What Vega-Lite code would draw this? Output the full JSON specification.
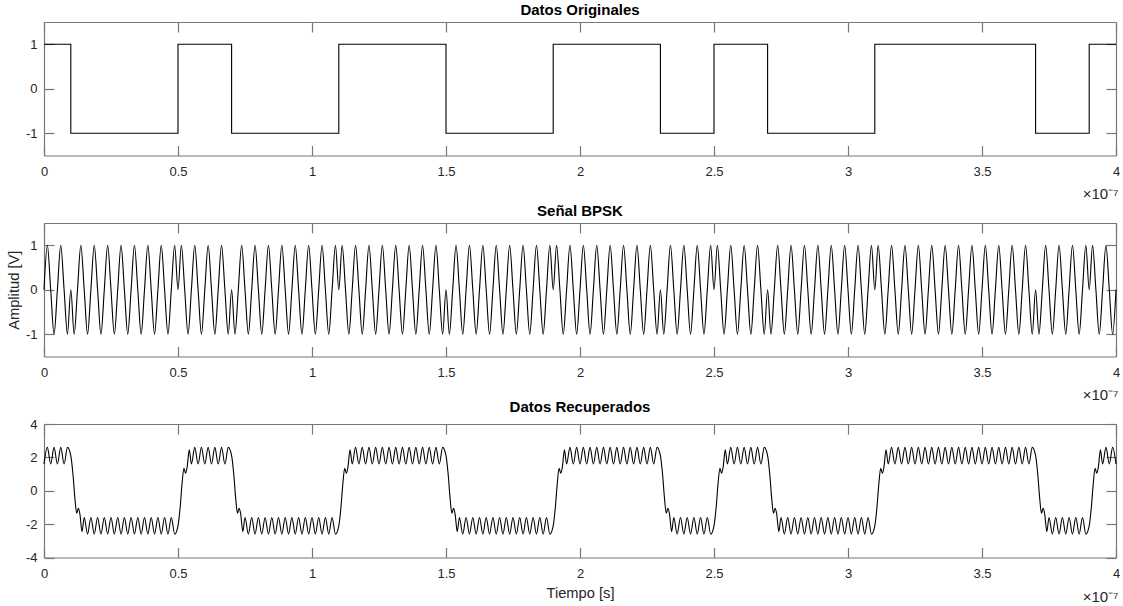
{
  "$schema": "https://vega.github.io/schema/vega-lite/v6.json",
  "background": "white",
  "padding": {"left": 5, "top": 3, "right": 0, "bottom": 0},
  "datasets": {
    "bits": [
      {"t":0,"v":1},{"t":10,"v":-1},{"t":20,"v":-1},{"t":30,"v":-1},{"t":40,"v":-1},
      {"t":50,"v":1},{"t":60,"v":1},{"t":70,"v":-1},{"t":80,"v":-1},{"t":90,"v":-1},
      {"t":100,"v":-1},{"t":110,"v":1},{"t":120,"v":1},{"t":130,"v":1},{"t":140,"v":1},
      {"t":150,"v":-1},{"t":160,"v":-1},{"t":170,"v":-1},{"t":180,"v":-1},{"t":190,"v":1},
      {"t":200,"v":1},{"t":210,"v":1},{"t":220,"v":1},{"t":230,"v":-1},{"t":240,"v":-1},
      {"t":250,"v":1},{"t":260,"v":1},{"t":270,"v":-1},{"t":280,"v":-1},{"t":290,"v":-1},
      {"t":300,"v":-1},{"t":310,"v":1},{"t":320,"v":1},{"t":330,"v":1},{"t":340,"v":1},
      {"t":350,"v":1},{"t":360,"v":1},{"t":370,"v":-1},{"t":380,"v":-1},{"t":390,"v":1},
      {"t":400,"v":1}
    ],
    "bpsk": [
      {"t":0,"v":0},{"t":1.25,"v":1},{"t":2.5,"v":0},{"t":3.75,"v":-1},{"t":5,"v":0},{"t":6.25,"v":1},{"t":7.5,"v":0},{"t":8.75,"v":-1},
      {"t":10,"v":0},{"t":11.25,"v":-1},{"t":12.5,"v":0},{"t":13.75,"v":1},{"t":15,"v":0},{"t":16.25,"v":-1},{"t":17.5,"v":0},{"t":18.75,"v":1},
      {"t":20,"v":0},{"t":21.25,"v":-1},{"t":22.5,"v":0},{"t":23.75,"v":1},{"t":25,"v":0},{"t":26.25,"v":-1},{"t":27.5,"v":0},{"t":28.75,"v":1},
      {"t":30,"v":0},{"t":31.25,"v":-1},{"t":32.5,"v":0},{"t":33.75,"v":1},{"t":35,"v":0},{"t":36.25,"v":-1},{"t":37.5,"v":0},{"t":38.75,"v":1},
      {"t":40,"v":0},{"t":41.25,"v":-1},{"t":42.5,"v":0},{"t":43.75,"v":1},{"t":45,"v":0},{"t":46.25,"v":-1},{"t":47.5,"v":0},{"t":48.75,"v":1},
      {"t":50,"v":0},{"t":51.25,"v":1},{"t":52.5,"v":0},{"t":53.75,"v":-1},{"t":55,"v":0},{"t":56.25,"v":1},{"t":57.5,"v":0},{"t":58.75,"v":-1},
      {"t":60,"v":0},{"t":61.25,"v":1},{"t":62.5,"v":0},{"t":63.75,"v":-1},{"t":65,"v":0},{"t":66.25,"v":1},{"t":67.5,"v":0},{"t":68.75,"v":-1},
      {"t":70,"v":0},{"t":71.25,"v":-1},{"t":72.5,"v":0},{"t":73.75,"v":1},{"t":75,"v":0},{"t":76.25,"v":-1},{"t":77.5,"v":0},{"t":78.75,"v":1},
      {"t":80,"v":0},{"t":81.25,"v":-1},{"t":82.5,"v":0},{"t":83.75,"v":1},{"t":85,"v":0},{"t":86.25,"v":-1},{"t":87.5,"v":0},{"t":88.75,"v":1},
      {"t":90,"v":0},{"t":91.25,"v":-1},{"t":92.5,"v":0},{"t":93.75,"v":1},{"t":95,"v":0},{"t":96.25,"v":-1},{"t":97.5,"v":0},{"t":98.75,"v":1},
      {"t":100,"v":0},{"t":101.25,"v":-1},{"t":102.5,"v":0},{"t":103.75,"v":1},{"t":105,"v":0},{"t":106.25,"v":-1},{"t":107.5,"v":0},{"t":108.75,"v":1},
      {"t":110,"v":0},{"t":111.25,"v":1},{"t":112.5,"v":0},{"t":113.75,"v":-1},{"t":115,"v":0},{"t":116.25,"v":1},{"t":117.5,"v":0},{"t":118.75,"v":-1},
      {"t":120,"v":0},{"t":121.25,"v":1},{"t":122.5,"v":0},{"t":123.75,"v":-1},{"t":125,"v":0},{"t":126.25,"v":1},{"t":127.5,"v":0},{"t":128.75,"v":-1},
      {"t":130,"v":0},{"t":131.25,"v":1},{"t":132.5,"v":0},{"t":133.75,"v":-1},{"t":135,"v":0},{"t":136.25,"v":1},{"t":137.5,"v":0},{"t":138.75,"v":-1},
      {"t":140,"v":0},{"t":141.25,"v":1},{"t":142.5,"v":0},{"t":143.75,"v":-1},{"t":145,"v":0},{"t":146.25,"v":1},{"t":147.5,"v":0},{"t":148.75,"v":-1},
      {"t":150,"v":0},{"t":151.25,"v":-1},{"t":152.5,"v":0},{"t":153.75,"v":1},{"t":155,"v":0},{"t":156.25,"v":-1},{"t":157.5,"v":0},{"t":158.75,"v":1},
      {"t":160,"v":0},{"t":161.25,"v":-1},{"t":162.5,"v":0},{"t":163.75,"v":1},{"t":165,"v":0},{"t":166.25,"v":-1},{"t":167.5,"v":0},{"t":168.75,"v":1},
      {"t":170,"v":0},{"t":171.25,"v":-1},{"t":172.5,"v":0},{"t":173.75,"v":1},{"t":175,"v":0},{"t":176.25,"v":-1},{"t":177.5,"v":0},{"t":178.75,"v":1},
      {"t":180,"v":0},{"t":181.25,"v":-1},{"t":182.5,"v":0},{"t":183.75,"v":1},{"t":185,"v":0},{"t":186.25,"v":-1},{"t":187.5,"v":0},{"t":188.75,"v":1},
      {"t":190,"v":0},{"t":191.25,"v":1},{"t":192.5,"v":0},{"t":193.75,"v":-1},{"t":195,"v":0},{"t":196.25,"v":1},{"t":197.5,"v":0},{"t":198.75,"v":-1},
      {"t":200,"v":0},{"t":201.25,"v":1},{"t":202.5,"v":0},{"t":203.75,"v":-1},{"t":205,"v":0},{"t":206.25,"v":1},{"t":207.5,"v":0},{"t":208.75,"v":-1},
      {"t":210,"v":0},{"t":211.25,"v":1},{"t":212.5,"v":0},{"t":213.75,"v":-1},{"t":215,"v":0},{"t":216.25,"v":1},{"t":217.5,"v":0},{"t":218.75,"v":-1},
      {"t":220,"v":0},{"t":221.25,"v":1},{"t":222.5,"v":0},{"t":223.75,"v":-1},{"t":225,"v":0},{"t":226.25,"v":1},{"t":227.5,"v":0},{"t":228.75,"v":-1},
      {"t":230,"v":0},{"t":231.25,"v":-1},{"t":232.5,"v":0},{"t":233.75,"v":1},{"t":235,"v":0},{"t":236.25,"v":-1},{"t":237.5,"v":0},{"t":238.75,"v":1},
      {"t":240,"v":0},{"t":241.25,"v":-1},{"t":242.5,"v":0},{"t":243.75,"v":1},{"t":245,"v":0},{"t":246.25,"v":-1},{"t":247.5,"v":0},{"t":248.75,"v":1},
      {"t":250,"v":0},{"t":251.25,"v":1},{"t":252.5,"v":0},{"t":253.75,"v":-1},{"t":255,"v":0},{"t":256.25,"v":1},{"t":257.5,"v":0},{"t":258.75,"v":-1},
      {"t":260,"v":0},{"t":261.25,"v":1},{"t":262.5,"v":0},{"t":263.75,"v":-1},{"t":265,"v":0},{"t":266.25,"v":1},{"t":267.5,"v":0},{"t":268.75,"v":-1},
      {"t":270,"v":0},{"t":271.25,"v":-1},{"t":272.5,"v":0},{"t":273.75,"v":1},{"t":275,"v":0},{"t":276.25,"v":-1},{"t":277.5,"v":0},{"t":278.75,"v":1},
      {"t":280,"v":0},{"t":281.25,"v":-1},{"t":282.5,"v":0},{"t":283.75,"v":1},{"t":285,"v":0},{"t":286.25,"v":-1},{"t":287.5,"v":0},{"t":288.75,"v":1},
      {"t":290,"v":0},{"t":291.25,"v":-1},{"t":292.5,"v":0},{"t":293.75,"v":1},{"t":295,"v":0},{"t":296.25,"v":-1},{"t":297.5,"v":0},{"t":298.75,"v":1},
      {"t":300,"v":0},{"t":301.25,"v":-1},{"t":302.5,"v":0},{"t":303.75,"v":1},{"t":305,"v":0},{"t":306.25,"v":-1},{"t":307.5,"v":0},{"t":308.75,"v":1},
      {"t":310,"v":0},{"t":311.25,"v":1},{"t":312.5,"v":0},{"t":313.75,"v":-1},{"t":315,"v":0},{"t":316.25,"v":1},{"t":317.5,"v":0},{"t":318.75,"v":-1},
      {"t":320,"v":0},{"t":321.25,"v":1},{"t":322.5,"v":0},{"t":323.75,"v":-1},{"t":325,"v":0},{"t":326.25,"v":1},{"t":327.5,"v":0},{"t":328.75,"v":-1},
      {"t":330,"v":0},{"t":331.25,"v":1},{"t":332.5,"v":0},{"t":333.75,"v":-1},{"t":335,"v":0},{"t":336.25,"v":1},{"t":337.5,"v":0},{"t":338.75,"v":-1},
      {"t":340,"v":0},{"t":341.25,"v":1},{"t":342.5,"v":0},{"t":343.75,"v":-1},{"t":345,"v":0},{"t":346.25,"v":1},{"t":347.5,"v":0},{"t":348.75,"v":-1},
      {"t":350,"v":0},{"t":351.25,"v":1},{"t":352.5,"v":0},{"t":353.75,"v":-1},{"t":355,"v":0},{"t":356.25,"v":1},{"t":357.5,"v":0},{"t":358.75,"v":-1},
      {"t":360,"v":0},{"t":361.25,"v":1},{"t":362.5,"v":0},{"t":363.75,"v":-1},{"t":365,"v":0},{"t":366.25,"v":1},{"t":367.5,"v":0},{"t":368.75,"v":-1},
      {"t":370,"v":0},{"t":371.25,"v":-1},{"t":372.5,"v":0},{"t":373.75,"v":1},{"t":375,"v":0},{"t":376.25,"v":-1},{"t":377.5,"v":0},{"t":378.75,"v":1},
      {"t":380,"v":0},{"t":381.25,"v":-1},{"t":382.5,"v":0},{"t":383.75,"v":1},{"t":385,"v":0},{"t":386.25,"v":-1},{"t":387.5,"v":0},{"t":388.75,"v":1},
      {"t":390,"v":0},{"t":391.25,"v":1},{"t":392.5,"v":0},{"t":393.75,"v":-1},{"t":395,"v":0},{"t":396.25,"v":1},{"t":397.5,"v":0},{"t":398.75,"v":-1},
      {"t":400,"v":0}
    ],
    "recovered": [
      {"t":0,"v":1.6},{"t":1.25,"v":2.6},{"t":2.5,"v":1.6},{"t":3.75,"v":2.6},{"t":5,"v":1.6},{"t":6.25,"v":2.6},{"t":7.5,"v":1.6},{"t":8.75,"v":2.6},
      {"t":10,"v":2.1},{"t":10.8,"v":1},{"t":11.5,"v":-0.4},{"t":12.2,"v":-1.35},{"t":12.8,"v":-1.05},{"t":13.4,"v":-1.4},{"t":14.2,"v":-2.45},{"t":15,"v":-1.6},{"t":16.25,"v":-2.6},{"t":17.5,"v":-1.6},{"t":18.75,"v":-2.6},
      {"t":20,"v":-1.6},{"t":21.25,"v":-2.6},{"t":22.5,"v":-1.6},{"t":23.75,"v":-2.6},{"t":25,"v":-1.6},{"t":26.25,"v":-2.6},{"t":27.5,"v":-1.6},{"t":28.75,"v":-2.6},
      {"t":30,"v":-1.6},{"t":31.25,"v":-2.6},{"t":32.5,"v":-1.6},{"t":33.75,"v":-2.6},{"t":35,"v":-1.6},{"t":36.25,"v":-2.6},{"t":37.5,"v":-1.6},{"t":38.75,"v":-2.6},
      {"t":40,"v":-1.6},{"t":41.25,"v":-2.6},{"t":42.5,"v":-1.6},{"t":43.75,"v":-2.6},{"t":45,"v":-1.6},{"t":46.25,"v":-2.6},{"t":47.5,"v":-1.6},{"t":48.75,"v":-2.6},
      {"t":50,"v":-2.1},{"t":50.8,"v":-1},{"t":51.5,"v":0.4},{"t":52.2,"v":1.35},{"t":52.8,"v":1.05},{"t":53.4,"v":1.4},{"t":54.2,"v":2.45},{"t":55,"v":1.6},{"t":56.25,"v":2.6},{"t":57.5,"v":1.6},{"t":58.75,"v":2.6},
      {"t":60,"v":1.6},{"t":61.25,"v":2.6},{"t":62.5,"v":1.6},{"t":63.75,"v":2.6},{"t":65,"v":1.6},{"t":66.25,"v":2.6},{"t":67.5,"v":1.6},{"t":68.75,"v":2.6},
      {"t":70,"v":2.1},{"t":70.8,"v":1},{"t":71.5,"v":-0.4},{"t":72.2,"v":-1.35},{"t":72.8,"v":-1.05},{"t":73.4,"v":-1.4},{"t":74.2,"v":-2.45},{"t":75,"v":-1.6},{"t":76.25,"v":-2.6},{"t":77.5,"v":-1.6},{"t":78.75,"v":-2.6},
      {"t":80,"v":-1.6},{"t":81.25,"v":-2.6},{"t":82.5,"v":-1.6},{"t":83.75,"v":-2.6},{"t":85,"v":-1.6},{"t":86.25,"v":-2.6},{"t":87.5,"v":-1.6},{"t":88.75,"v":-2.6},
      {"t":90,"v":-1.6},{"t":91.25,"v":-2.6},{"t":92.5,"v":-1.6},{"t":93.75,"v":-2.6},{"t":95,"v":-1.6},{"t":96.25,"v":-2.6},{"t":97.5,"v":-1.6},{"t":98.75,"v":-2.6},
      {"t":100,"v":-1.6},{"t":101.25,"v":-2.6},{"t":102.5,"v":-1.6},{"t":103.75,"v":-2.6},{"t":105,"v":-1.6},{"t":106.25,"v":-2.6},{"t":107.5,"v":-1.6},{"t":108.75,"v":-2.6},
      {"t":110,"v":-2.1},{"t":110.8,"v":-1},{"t":111.5,"v":0.4},{"t":112.2,"v":1.35},{"t":112.8,"v":1.05},{"t":113.4,"v":1.4},{"t":114.2,"v":2.45},{"t":115,"v":1.6},{"t":116.25,"v":2.6},{"t":117.5,"v":1.6},{"t":118.75,"v":2.6},
      {"t":120,"v":1.6},{"t":121.25,"v":2.6},{"t":122.5,"v":1.6},{"t":123.75,"v":2.6},{"t":125,"v":1.6},{"t":126.25,"v":2.6},{"t":127.5,"v":1.6},{"t":128.75,"v":2.6},
      {"t":130,"v":1.6},{"t":131.25,"v":2.6},{"t":132.5,"v":1.6},{"t":133.75,"v":2.6},{"t":135,"v":1.6},{"t":136.25,"v":2.6},{"t":137.5,"v":1.6},{"t":138.75,"v":2.6},
      {"t":140,"v":1.6},{"t":141.25,"v":2.6},{"t":142.5,"v":1.6},{"t":143.75,"v":2.6},{"t":145,"v":1.6},{"t":146.25,"v":2.6},{"t":147.5,"v":1.6},{"t":148.75,"v":2.6},
      {"t":150,"v":2.1},{"t":150.8,"v":1},{"t":151.5,"v":-0.4},{"t":152.2,"v":-1.35},{"t":152.8,"v":-1.05},{"t":153.4,"v":-1.4},{"t":154.2,"v":-2.45},{"t":155,"v":-1.6},{"t":156.25,"v":-2.6},{"t":157.5,"v":-1.6},{"t":158.75,"v":-2.6},
      {"t":160,"v":-1.6},{"t":161.25,"v":-2.6},{"t":162.5,"v":-1.6},{"t":163.75,"v":-2.6},{"t":165,"v":-1.6},{"t":166.25,"v":-2.6},{"t":167.5,"v":-1.6},{"t":168.75,"v":-2.6},
      {"t":170,"v":-1.6},{"t":171.25,"v":-2.6},{"t":172.5,"v":-1.6},{"t":173.75,"v":-2.6},{"t":175,"v":-1.6},{"t":176.25,"v":-2.6},{"t":177.5,"v":-1.6},{"t":178.75,"v":-2.6},
      {"t":180,"v":-1.6},{"t":181.25,"v":-2.6},{"t":182.5,"v":-1.6},{"t":183.75,"v":-2.6},{"t":185,"v":-1.6},{"t":186.25,"v":-2.6},{"t":187.5,"v":-1.6},{"t":188.75,"v":-2.6},
      {"t":190,"v":-2.1},{"t":190.8,"v":-1},{"t":191.5,"v":0.4},{"t":192.2,"v":1.35},{"t":192.8,"v":1.05},{"t":193.4,"v":1.4},{"t":194.2,"v":2.45},{"t":195,"v":1.6},{"t":196.25,"v":2.6},{"t":197.5,"v":1.6},{"t":198.75,"v":2.6},
      {"t":200,"v":1.6},{"t":201.25,"v":2.6},{"t":202.5,"v":1.6},{"t":203.75,"v":2.6},{"t":205,"v":1.6},{"t":206.25,"v":2.6},{"t":207.5,"v":1.6},{"t":208.75,"v":2.6},
      {"t":210,"v":1.6},{"t":211.25,"v":2.6},{"t":212.5,"v":1.6},{"t":213.75,"v":2.6},{"t":215,"v":1.6},{"t":216.25,"v":2.6},{"t":217.5,"v":1.6},{"t":218.75,"v":2.6},
      {"t":220,"v":1.6},{"t":221.25,"v":2.6},{"t":222.5,"v":1.6},{"t":223.75,"v":2.6},{"t":225,"v":1.6},{"t":226.25,"v":2.6},{"t":227.5,"v":1.6},{"t":228.75,"v":2.6},
      {"t":230,"v":2.1},{"t":230.8,"v":1},{"t":231.5,"v":-0.4},{"t":232.2,"v":-1.35},{"t":232.8,"v":-1.05},{"t":233.4,"v":-1.4},{"t":234.2,"v":-2.45},{"t":235,"v":-1.6},{"t":236.25,"v":-2.6},{"t":237.5,"v":-1.6},{"t":238.75,"v":-2.6},
      {"t":240,"v":-1.6},{"t":241.25,"v":-2.6},{"t":242.5,"v":-1.6},{"t":243.75,"v":-2.6},{"t":245,"v":-1.6},{"t":246.25,"v":-2.6},{"t":247.5,"v":-1.6},{"t":248.75,"v":-2.6},
      {"t":250,"v":-2.1},{"t":250.8,"v":-1},{"t":251.5,"v":0.4},{"t":252.2,"v":1.35},{"t":252.8,"v":1.05},{"t":253.4,"v":1.4},{"t":254.2,"v":2.45},{"t":255,"v":1.6},{"t":256.25,"v":2.6},{"t":257.5,"v":1.6},{"t":258.75,"v":2.6},
      {"t":260,"v":1.6},{"t":261.25,"v":2.6},{"t":262.5,"v":1.6},{"t":263.75,"v":2.6},{"t":265,"v":1.6},{"t":266.25,"v":2.6},{"t":267.5,"v":1.6},{"t":268.75,"v":2.6},
      {"t":270,"v":2.1},{"t":270.8,"v":1},{"t":271.5,"v":-0.4},{"t":272.2,"v":-1.35},{"t":272.8,"v":-1.05},{"t":273.4,"v":-1.4},{"t":274.2,"v":-2.45},{"t":275,"v":-1.6},{"t":276.25,"v":-2.6},{"t":277.5,"v":-1.6},{"t":278.75,"v":-2.6},
      {"t":280,"v":-1.6},{"t":281.25,"v":-2.6},{"t":282.5,"v":-1.6},{"t":283.75,"v":-2.6},{"t":285,"v":-1.6},{"t":286.25,"v":-2.6},{"t":287.5,"v":-1.6},{"t":288.75,"v":-2.6},
      {"t":290,"v":-1.6},{"t":291.25,"v":-2.6},{"t":292.5,"v":-1.6},{"t":293.75,"v":-2.6},{"t":295,"v":-1.6},{"t":296.25,"v":-2.6},{"t":297.5,"v":-1.6},{"t":298.75,"v":-2.6},
      {"t":300,"v":-1.6},{"t":301.25,"v":-2.6},{"t":302.5,"v":-1.6},{"t":303.75,"v":-2.6},{"t":305,"v":-1.6},{"t":306.25,"v":-2.6},{"t":307.5,"v":-1.6},{"t":308.75,"v":-2.6},
      {"t":310,"v":-2.1},{"t":310.8,"v":-1},{"t":311.5,"v":0.4},{"t":312.2,"v":1.35},{"t":312.8,"v":1.05},{"t":313.4,"v":1.4},{"t":314.2,"v":2.45},{"t":315,"v":1.6},{"t":316.25,"v":2.6},{"t":317.5,"v":1.6},{"t":318.75,"v":2.6},
      {"t":320,"v":1.6},{"t":321.25,"v":2.6},{"t":322.5,"v":1.6},{"t":323.75,"v":2.6},{"t":325,"v":1.6},{"t":326.25,"v":2.6},{"t":327.5,"v":1.6},{"t":328.75,"v":2.6},
      {"t":330,"v":1.6},{"t":331.25,"v":2.6},{"t":332.5,"v":1.6},{"t":333.75,"v":2.6},{"t":335,"v":1.6},{"t":336.25,"v":2.6},{"t":337.5,"v":1.6},{"t":338.75,"v":2.6},
      {"t":340,"v":1.6},{"t":341.25,"v":2.6},{"t":342.5,"v":1.6},{"t":343.75,"v":2.6},{"t":345,"v":1.6},{"t":346.25,"v":2.6},{"t":347.5,"v":1.6},{"t":348.75,"v":2.6},
      {"t":350,"v":1.6},{"t":351.25,"v":2.6},{"t":352.5,"v":1.6},{"t":353.75,"v":2.6},{"t":355,"v":1.6},{"t":356.25,"v":2.6},{"t":357.5,"v":1.6},{"t":358.75,"v":2.6},
      {"t":360,"v":1.6},{"t":361.25,"v":2.6},{"t":362.5,"v":1.6},{"t":363.75,"v":2.6},{"t":365,"v":1.6},{"t":366.25,"v":2.6},{"t":367.5,"v":1.6},{"t":368.75,"v":2.6},
      {"t":370,"v":2.1},{"t":370.8,"v":1},{"t":371.5,"v":-0.4},{"t":372.2,"v":-1.35},{"t":372.8,"v":-1.05},{"t":373.4,"v":-1.4},{"t":374.2,"v":-2.45},{"t":375,"v":-1.6},{"t":376.25,"v":-2.6},{"t":377.5,"v":-1.6},{"t":378.75,"v":-2.6},
      {"t":380,"v":-1.6},{"t":381.25,"v":-2.6},{"t":382.5,"v":-1.6},{"t":383.75,"v":-2.6},{"t":385,"v":-1.6},{"t":386.25,"v":-2.6},{"t":387.5,"v":-1.6},{"t":388.75,"v":-2.6},
      {"t":390,"v":-2.1},{"t":390.8,"v":-1},{"t":391.5,"v":0.4},{"t":392.2,"v":1.35},{"t":392.8,"v":1.05},{"t":393.4,"v":1.4},{"t":394.2,"v":2.45},{"t":395,"v":1.6},{"t":396.25,"v":2.6},{"t":397.5,"v":1.6},{"t":398.75,"v":2.6},
      {"t":400,"v":1.6}
    ]
  },
  "vconcat": [
    {
      "title": {"text": "Datos Originales"},
      "width": 1072,
      "height": 133.5,
      "data": {"name": "bits"},
      "layer": [
        {
          "mark": {"type": "line", "interpolate": "step-after", "color": "#000000", "strokeWidth": 1.1},
          "encoding": {
            "x": {"field": "t", "type": "quantitative", "scale": {"domain": [0, 400], "nice": false, "zero": false},
                  "axis": {"values": [0, 50, 100, 150, 200, 250, 300, 350, 400], "labelExpr": "'' + (datum.value / 100)", "title": null}},
            "y": {"field": "v", "type": "quantitative", "scale": {"domain": [-1.5, 1.5], "nice": false, "zero": false},
                  "axis": {"values": [-1, 0, 1], "labelExpr": "'' + datum.value", "title": null}}
          }
        },
        {
          "mark": {"type": "line", "opacity": 0},
          "encoding": {
            "x": {"field": "t", "type": "quantitative",
                  "axis": {"orient": "top", "values": [0, 50, 100, 150, 200, 250, 300, 350, 400], "labels": false,
                           "title": "×10⁻⁷", "titleX": 1074, "titleY": 171.5, "titleAlign": "right", "titleBaseline": "middle", "titleFontSize": 15}},
            "y": {"field": "v", "type": "quantitative",
                  "axis": {"orient": "right", "values": [-1, 0, 1], "labels": false, "title": null}}
          }
        }
      ],
      "resolve": {"axis": {"x": "independent", "y": "independent"}}
    },
    {
      "title": {"text": "Señal BPSK"},
      "width": 1072,
      "height": 133.5,
      "data": {"name": "bpsk"},
      "layer": [
        {
          "mark": {"type": "line", "interpolate": "monotone", "color": "#000000", "strokeWidth": 1.1},
          "encoding": {
            "x": {"field": "t", "type": "quantitative", "scale": {"domain": [0, 400], "nice": false, "zero": false},
                  "axis": {"values": [0, 50, 100, 150, 200, 250, 300, 350, 400], "labelExpr": "'' + (datum.value / 100)", "title": null}},
            "y": {"field": "v", "type": "quantitative", "scale": {"domain": [-1.5, 1.5], "nice": false, "zero": false},
                  "axis": {"values": [-1, 0, 1], "labelExpr": "'' + datum.value", "title": "Amplitud [V]",
                           "titleX": -30, "titleY": 66.75, "titleAngle": -90, "titleAlign": "center", "titleBaseline": "middle"}}
          }
        },
        {
          "mark": {"type": "line", "opacity": 0},
          "encoding": {
            "x": {"field": "t", "type": "quantitative",
                  "axis": {"orient": "top", "values": [0, 50, 100, 150, 200, 250, 300, 350, 400], "labels": false,
                           "title": "×10⁻⁷", "titleX": 1074, "titleY": 171.5, "titleAlign": "right", "titleBaseline": "middle", "titleFontSize": 15}},
            "y": {"field": "v", "type": "quantitative",
                  "axis": {"orient": "right", "values": [-1, 0, 1], "labels": false, "title": null}}
          }
        }
      ],
      "resolve": {"axis": {"x": "independent", "y": "independent"}}
    },
    {
      "title": {"text": "Datos Recuperados"},
      "width": 1072,
      "height": 133.5,
      "data": {"name": "recovered"},
      "layer": [
        {
          "mark": {"type": "line", "interpolate": "monotone", "color": "#000000", "strokeWidth": 1.1},
          "encoding": {
            "x": {"field": "t", "type": "quantitative", "scale": {"domain": [0, 400], "nice": false, "zero": false},
                  "axis": {"values": [0, 50, 100, 150, 200, 250, 300, 350, 400], "labelExpr": "'' + (datum.value / 100)",
                           "title": "Tiempo [s]", "titleY": 36, "titleBaseline": "middle"}},
            "y": {"field": "v", "type": "quantitative", "scale": {"domain": [-4, 4], "nice": false, "zero": false},
                  "axis": {"values": [-4, -2, 0, 2, 4], "labelExpr": "'' + datum.value", "title": null}}
          }
        },
        {
          "mark": {"type": "line", "opacity": 0},
          "encoding": {
            "x": {"field": "t", "type": "quantitative",
                  "axis": {"orient": "top", "values": [0, 50, 100, 150, 200, 250, 300, 350, 400], "labels": false,
                           "title": "×10⁻⁷", "titleX": 1074, "titleY": 172.5, "titleAlign": "right", "titleBaseline": "middle", "titleFontSize": 15}},
            "y": {"field": "v", "type": "quantitative",
                  "axis": {"orient": "right", "values": [-4, -2, 0, 2, 4], "labels": false, "title": null}}
          }
        }
      ],
      "resolve": {"axis": {"x": "independent", "y": "independent"}}
    }
  ],
  "spacing": 67,
  "bounds": "flush",
  "config": {
    "view": {"stroke": null},
    "font": "Liberation Sans",
    "title": {"font": "Liberation Sans", "fontSize": 15, "fontWeight": "bold", "color": "#000000", "offset": 3, "anchor": "middle", "frame": "group"},
    "axis": {
      "grid": false,
      "domainColor": "#777777",
      "domainWidth": 1.2,
      "tickColor": "#777777",
      "tickWidth": 1.2,
      "tickSize": -10,
      "labelFont": "Liberation Sans",
      "labelFontSize": 13,
      "labelColor": "#262626",
      "labelFlush": false,
      "labelOverlap": false,
      "labelBound": false,
      "titleFont": "Liberation Sans",
      "titleFontSize": 14.7,
      "titleFontWeight": "normal",
      "titleColor": "#262626"
    },
    "axisX": {"labelPadding": 20},
    "axisY": {"labelPadding": 17}
  }
}
